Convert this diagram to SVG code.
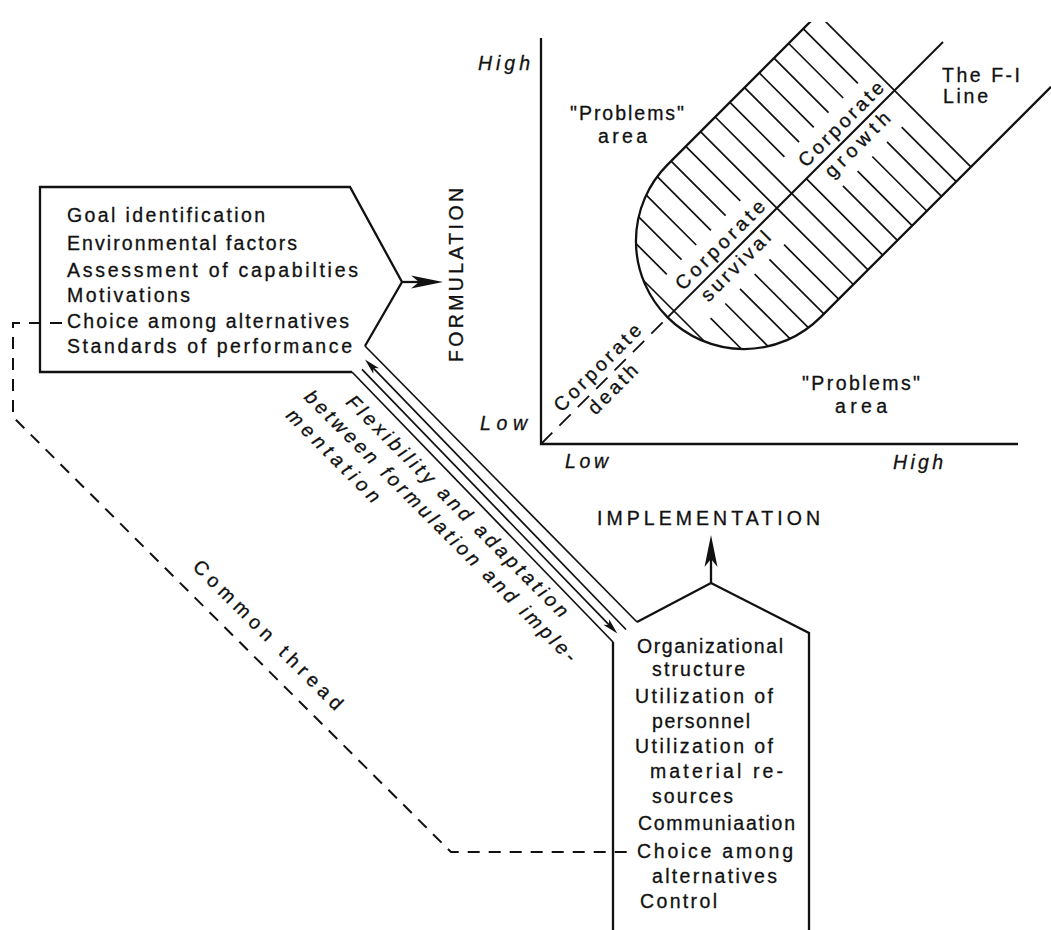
<svg xmlns="http://www.w3.org/2000/svg" width="1051" height="930" viewBox="0 0 1051 930">
<defs>
<style>
.ln{fill:none;stroke:#111;stroke-width:2.3;stroke-linejoin:miter}
.th{fill:none;stroke:#111;stroke-width:1.7}
.dash{fill:none;stroke:#111;stroke-width:2;stroke-dasharray:12 9}
.fid{fill:none;stroke:#111;stroke-width:1.8;stroke-dasharray:16 10}
.tx{font-family:"Liberation Sans",Arial,sans-serif;font-size:19.5px;fill:#111;stroke:#111;stroke-width:0.3}
.it{font-style:italic}
</style>
<marker id="big" markerUnits="userSpaceOnUse" viewBox="-34 -8 36 16" markerWidth="36" markerHeight="16" refX="-10" refY="0" orient="auto">
<path d="M0,0 L-32,-6.5 L-24,0 L-32,6.5 Z" fill="#111"/>
</marker>
<marker id="sm" markerUnits="userSpaceOnUse" viewBox="-18 -6 20 12" markerWidth="20" markerHeight="12" refX="-6" refY="0" orient="auto">
<path d="M0,0 L-16,-4 L-12,0 L-16,4 Z" fill="#111"/>
</marker>
<clipPath id="cc"><rect x="538" y="22" width="513" height="425"/></clipPath>
</defs>
<rect width="1051" height="930" fill="#fff"/>

<g id="formulation-box">
<path class="ln" d="M365,346 L402,282 L350,187 H40 V372 H352"/>
<text class="tx" x="67" y="222" textLength="198" lengthAdjust="spacing">Goal identification</text>
<text class="tx" x="67" y="250" textLength="230" lengthAdjust="spacing">Environmental factors</text>
<text class="tx" x="67" y="277" textLength="291" lengthAdjust="spacing">Assessment of capabilties</text>
<text class="tx" x="67" y="302" textLength="123" lengthAdjust="spacing">Motivations</text>
<text class="tx" x="67" y="328" textLength="282" lengthAdjust="spacing">Choice among alternatives</text>
<text class="tx" x="67" y="353" textLength="285" lengthAdjust="spacing">Standards of performance</text>
</g>

<g id="formulation-label">
<path class="ln" d="M402,282 H433" marker-end="url(#big)"/>
<text class="tx" x="463" y="362" transform="rotate(-90 463 362)" textLength="174" lengthAdjust="spacing">FORMULATION</text>
</g>

<g id="implementation-box">
<path class="ln" d="M637,622 L711,583 L809,633 V930"/>
<path class="ln" d="M613,642 V930"/>
<text class="tx" x="637" y="653" textLength="146" lengthAdjust="spacing">Organizational</text>
<text class="tx" x="652" y="676" textLength="93" lengthAdjust="spacing">structure</text>
<text class="tx" x="635" y="703" textLength="138" lengthAdjust="spacing">Utilization of</text>
<text class="tx" x="652" y="728" textLength="98" lengthAdjust="spacing">personnel</text>
<text class="tx" x="635" y="753" textLength="138" lengthAdjust="spacing">Utilization of</text>
<text class="tx" x="650" y="778" textLength="133" lengthAdjust="spacing">material re-</text>
<text class="tx" x="652" y="803" textLength="81" lengthAdjust="spacing">sources</text>
<text class="tx" x="638" y="830" textLength="157" lengthAdjust="spacing">Communiaation</text>
<text class="tx" x="637" y="858" textLength="156" lengthAdjust="spacing">Choice among</text>
<text class="tx" x="652" y="883" textLength="125" lengthAdjust="spacing">alternatives</text>
<text class="tx" x="640" y="908" textLength="77" lengthAdjust="spacing">Control</text>
</g>

<g id="implementation-label">
<path class="ln" d="M711,583 V545" marker-end="url(#big)"/>
<text class="tx" x="597" y="525" textLength="223" lengthAdjust="spacing">IMPLEMENTATION</text>
</g>

<g id="connectors">
<path class="th" d="M352,372 L613,642"/>
<path class="th" d="M365,346 L637,622"/>
<path class="th" d="M362,369.3 L613.2,629.2" marker-end="url(#sm)"/>
<path class="th" d="M626,629.5 L369.2,363.8" marker-end="url(#sm)"/>
<path class="dash" d="M62,323 H13 V417 L451,852 H633"/>
</g>

<g id="flexibility-label" transform="rotate(45)">
<text class="tx it" x="529" y="41" textLength="305" lengthAdjust="spacing">Flexibility and adaptation</text>
<text class="tx it" x="496" y="67" textLength="375" lengthAdjust="spacing">between formulation and imple-</text>
<text class="tx it" x="496" y="93" textLength="124" lengthAdjust="spacing">mentation</text>
</g>

<g id="common-thread-label" transform="rotate(45)">
<text class="tx" x="537" y="266" textLength="203" lengthAdjust="spacing">Common thread</text>
</g>

<g id="chart">
<path class="ln" d="M541,38 V444 H1018"/>
<g clip-path="url(#cc)">
<path class="ln" d="M1051,86.8 L820.4,317.4 A108,108 0 0 1 667.6,164.6 L822,10"/>
<path class="th" d="M818.1,14.1 L970.9,166.9
M803.4,28.8 L857.9,83.3 M901.7,127.1 L956.2,181.6
M788.7,43.5 L843.2,98.0 M887.0,141.8 L941.5,196.3
M774.0,58.2 L828.5,112.7 M872.3,156.5 L926.8,211.0
M759.3,72.9 L813.8,127.4 M857.6,171.2 L912.1,225.7
M744.6,87.6 L799.1,142.1 M842.9,185.9 L897.4,240.4
M729.9,102.3 L784.4,156.8 M806.3,178.7 L882.7,255.1
M715.2,117.0 L868.0,269.8
M700.5,131.7 L853.3,284.5
M685.8,146.4 L740.3,200.9 M784.1,244.7 L838.6,299.2
M671.1,161.1 L725.6,215.6 M769.4,259.4 L823.9,313.9
M657.3,176.7 L710.9,230.3 M754.7,274.1 L808.3,327.7
M646.3,195.1 L696.2,245.0 M740.0,288.8 L789.9,338.7
M638.7,216.9 L681.5,259.7 M725.3,303.5 L768.1,346.3
M636.0,243.6 L666.8,274.4 M710.6,318.2 L741.4,349.0
M643.5,280.5 L704.5,341.5"/>
</g>
<path class="fid" d="M541,444 L667.6,317.4"/>
<path class="th" style="stroke-width:2" d="M667.6,317.4 L943,42"/>
<g transform="rotate(-45)">
<text class="tx" x="451" y="689" textLength="112" lengthAdjust="spacing">Corporate</text>
<text class="tx" x="462" y="715" textLength="84" lengthAdjust="spacing">growth</text>
<text class="tx" x="277" y="689" textLength="118" lengthAdjust="spacing">Corporate</text>
<text class="tx" x="287" y="715" textLength="90" lengthAdjust="spacing">survival</text>
<text class="tx" x="105" y="689" textLength="115" lengthAdjust="spacing">Corporate</text>
<text class="tx" x="127" y="715" textLength="62" lengthAdjust="spacing">death</text>
</g>
<text class="tx it" x="478" y="70" textLength="52" lengthAdjust="spacing">High</text>
<text class="tx it" x="480" y="430" textLength="47" lengthAdjust="spacing">Low</text>
<text class="tx it" x="565" y="468" textLength="43" lengthAdjust="spacing">Low</text>
<text class="tx it" x="893" y="469" textLength="50" lengthAdjust="spacing">High</text>
<text class="tx" x="570" y="120" textLength="114" lengthAdjust="spacing">&quot;Problems&quot;</text>
<text class="tx" x="598" y="143" textLength="49" lengthAdjust="spacing">area</text>
<text class="tx" x="802" y="390" textLength="118" lengthAdjust="spacing">&quot;Problems&quot;</text>
<text class="tx" x="835" y="413" textLength="52" lengthAdjust="spacing">area</text>
<text class="tx" x="942" y="82" textLength="78" lengthAdjust="spacing">The F-I</text>
<text class="tx" x="943" y="103" textLength="45" lengthAdjust="spacing">Line</text>
</g>
</svg>
